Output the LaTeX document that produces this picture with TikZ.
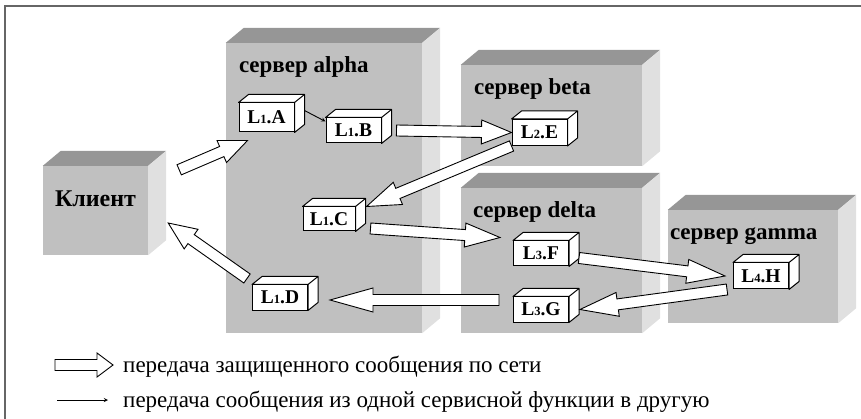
\documentclass[tikz,border=0pt]{standalone}
\usepackage{fontspec}
\setmainfont{Liberation Serif}
\usetikzlibrary{calc,arrows}
\definecolor{srvfront}{RGB}{192,192,192}
\definecolor{srvtop}{RGB}{150,150,150}
\definecolor{srvside}{RGB}{224,224,224}
\newcommand{\netarrow}[3][34]{%
  \draw [net] let \p1=($(#3)-(#2)$), \n1={atan2(\y1,\x1)},
      \p2=($(#3)!#1pt!(#2)$) in
    ($(#2)+(\n1+90:5.5pt)$) -- ($(\p2)+(\n1+90:5.5pt)$)
    -- ($(\p2)+(\n1+90:12pt)$) -- (#3)
    -- ($(\p2)+(\n1-90:12pt)$) -- ($(\p2)+(\n1-90:5.5pt)$)
    -- ($(#2)+(\n1-90:5.5pt)$) -- cycle;}
\newcommand{\lname}[2]{L{\fontsize{12.5}{12}\selectfont #1}.#2}
\begin{document}
\begin{tikzpicture}
    [x=1pt,y=-1pt,
     server/.style={fill=srvfront,inner sep=0pt},
     srvname/.style={anchor=base west,inner sep=0pt,font=\fontsize{23}{24}\selectfont\bfseries},
     func/.style={draw=black,fill=white,line width=1pt,inner sep=0pt,minimum width=55pt,minimum height=26pt,font=\fontsize{19.5}{20}\selectfont\bfseries},
     net/.style={draw=black,fill=white,line width=0.9pt,line join=miter},
     call/.style={->,>=stealth,line width=0.9pt},
     legend/.style={anchor=base west,inner sep=0pt,font=\fontsize{23}{24}\selectfont}]
  \useasboundingbox (0,0) rectangle (861,419);
  \draw [gray!80!black,line width=1.5pt] (5,419) -- (5,6) -- (861,6);
  % servers
  \node [server,minimum width=105pt,minimum height=89pt] (client)
    [label={[srvname,anchor=base,font=\fontsize{24}{24}\selectfont\bfseries,yshift=-41pt]north:Клиент}] at (95.5,210.5) {};
  \node [server,minimum width=196pt,minimum height=290pt] (alpha)
    [label={[srvname,xshift=13pt,yshift=-30pt]north west:сервер alpha}] at (324,188) {};
  \node [server,minimum width=181pt,minimum height=101pt] (beta)
    [label={[srvname,xshift=13pt,yshift=-30pt]north west:сервер beta}] at (551.5,115.5) {};
  \node [server,minimum width=181pt,minimum height=145pt] (delta)
    [label={[srvname,xshift=12pt,yshift=-30pt]north west:сервер delta}] at (551.5,260.5) {};
  \node [server,minimum width=170pt,minimum height=113pt] (gamma)
    [label={[srvname,xshift=2pt,yshift=-30pt]north west:сервер gamma}] at (753,266.5) {};
  \foreach \s in {client,alpha,beta,delta,gamma} {
    \fill [srvtop] (\s.north west) -- ++(18pt,15pt) -- ([shift={(18pt,15pt)}]\s.north east) -- (\s.north east) -- cycle;
    \fill [srvside] (\s.north east) -- ++(18pt,15pt) -- ([shift={(18pt,15pt)}]\s.south east) -- (\s.south east) -- cycle;
  }
  % service functions
  \node [func,minimum height=29pt] (l1a) at (266.5,117.5) {\lname{1}{A}};
  \node [func,minimum height=25pt] (l1b) at (353.5,130.5) {\lname{1}{B}};
  \node [func] (l2e) at (539.5,132.5) {\lname{2}{E}};
  \node [func,minimum width=52pt,minimum height=24pt] (l1c) at (329,219) {\lname{1}{C}};
  \node [func,minimum height=25pt] (l1d) at (280,297.5) {\lname{1}{D}};
  \node [func,minimum height=25pt] (l3f) at (541,253.5) {\lname{3}{F}};
  \node [func,minimum height=25pt] (l3g) at (541,309.5) {\lname{3}{G}};
  \node [func] (l4h) at (761,276) {\lname{4}{H}};
  \foreach \b in {l1a,l1b,l2e,l1c,l1d,l3f,l3g,l4h}
    \draw [fill=white,line width=1pt,line join=round] (\b.north west) -- ++(10pt,8pt)
      -- ([shift={(10pt,8pt)}]\b.north east) -- ([shift={(10pt,8pt)}]\b.south east)
      -- (\b.south east) -- (\b.north east) -- cycle (\b.north east) -- ++(10pt,8pt);
  % messages
  \draw [call] ([shift={(10pt,7pt)}]l1a.east) -- ([yshift=-4pt]l1b.north west);
  \netarrow[28]{[shift={(31pt,-4pt)}]client.north east}{[shift={(9pt,-8pt)}]l1a.south west}
  \netarrow[30]{[xshift=15pt]l1b.east}{l2e.west}
  \netarrow[34]{l2e.south west}{[xshift=11pt]l1c.north east}
  \netarrow[35]{[shift={(15pt,3pt)}]l1c.south east}{[shift={(-13pt,3pt)}]l3f.north west}
  \netarrow[38]{[shift={(10pt,-4.5pt)}]l3f.east}{[xshift=-8pt]l4h.west}
  \netarrow[38]{[xshift=-6pt]l4h.south west}{[xshift=11pt]l3g.east}
  \netarrow[43]{[shift={(-14pt,9.5pt)}]l3g.west}{[shift={(22pt,-2.5pt)}]l1d.east}
  \netarrow[28]{[shift={(-5pt,6pt)}]l1d.north west}{[shift={(20pt,-12.5pt)}]client.east}
  % legend
  \node [legend] (netnote) at (123,372) {передача защищенного сообщения по сети};
  \node [legend] (callnote) at (123,407) {передача сообщения из одной сервисной функции в другую};
  \coordinate (netkey) at (55,365);
  \coordinate (callkey) at (57,400);
  \netarrow[16]{netkey}{[shift={(-10pt,7pt)}]netnote.base west}
  \draw [call] (callkey) -- ([shift={(-15pt,7pt)}]callnote.base west);
\end{tikzpicture}
\end{document}
